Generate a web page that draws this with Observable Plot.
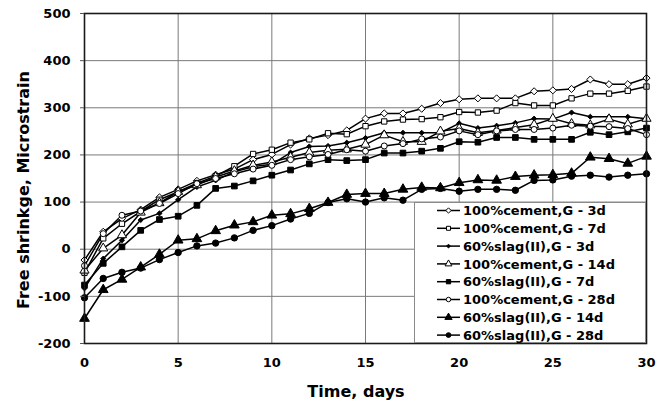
<!DOCTYPE html>
<html><head><meta charset="utf-8">
<script src="https://cdn.jsdelivr.net/npm/d3@7"></script>
<script src="https://cdn.jsdelivr.net/npm/@observablehq/plot@0.6"></script>
<style>
body{margin:0;background:#fff}
#chart svg{font-family:"DejaVu Sans",sans-serif;font-weight:bold}
</style>
</head><body><div id="chart"></div>
<script>
// ---- data ----
const days = [0,1,2,3,4,5,6,7,8,9,10,11,12,13,14,15,16,17,18,19,20,21,22,23,24,25,26,27,28,29,30];
const cement3d  = [-23,37,65,84,110,127,145,158,170,190,201,222,235,242,252,277,288,288,298,310,318,320,320,320,335,337,340,360,350,350,363];
const cement7d  = [-50,23,54,80,105,122,140,155,176,202,211,226,233,246,244,261,271,275,276,280,291,290,294,310,305,305,320,330,330,336,345];
const slag3d    = [-83,-20,19,62,76,105,132,146,164,175,180,205,218,219,226,236,247,247,247,247,267,257,262,268,277,276,290,281,281,281,277];
const cement14d = [-45,2,30,78,98,122,136,153,166,178,185,195,205,210,212,222,242,228,228,250,256,247,252,258,264,277,266,263,276,265,277];
const slag7d    = [-76,-30,5,40,63,70,93,129,134,145,157,168,181,190,188,190,204,204,208,214,228,227,237,237,233,233,233,248,243,249,257];
const cement28d = [-35,33,72,81,97,118,139,150,160,170,178,190,196,201,211,208,219,224,234,238,251,243,251,254,254,257,263,261,260,256,243];
const slag14d   = [-147,-86,-64,-38,-11,19,22,39,51,58,72,75,86,99,116,118,118,127,131,130,141,147,146,154,157,158,161,195,192,182,197];
const slag28d   = [-103,-62,-49,-40,-22,-7,7,13,24,40,50,64,76,99,107,100,109,104,127,129,123,127,127,125,146,147,155,157,153,157,160];

const seriesNames = ["100%cement,G - 3d","100%cement,G - 7d","60%slag(II),G - 3d","100%cement,G - 14d",
                     "60%slag(II),G - 7d","100%cement,G - 28d","60%slag(II),G - 14d","60%slag(II),G - 28d"];
const seriesValues = [cement3d, cement7d, slag3d, cement14d, slag7d, cement28d, slag14d, slag28d];
const xTicks = [0,5,10,15,20,25,30];
const yTicks = [-200,-100,0,100,200,300,400,500];

// ---- styles ----
const styles = [
  {symbol:"diamond2", fill:"white", r:3.2},
  {symbol:"square",   fill:"white", r:3.0},
  {symbol:"diamond2", fill:"black", r:2.3},
  {symbol:"triangle", fill:"white", r:3.4},
  {symbol:"square",   fill:"black", r:3.2},
  {symbol:"circle",   fill:"white", r:3.0},
  {symbol:"triangle", fill:"black", r:3.6},
  {symbol:"circle",   fill:"black", r:3.2}
];

const rows = seriesNames.map((name, i) => days.map((d, j) => ({day: d, value: seriesValues[i][j], series: name})));

const marks = [
  Plot.gridX(xTicks, {stroke:"#7a7a7a", strokeOpacity:1, strokeWidth:1}),
  Plot.gridY(yTicks, {stroke:"#7a7a7a", strokeOpacity:1, strokeWidth:1}),
];
rows.forEach((r) => {
  marks.push(Plot.line(r, {x:"day", y:"value", stroke:"black", strokeWidth:1.5}));
});
rows.forEach((r, i) => {
  const s = styles[i];
  marks.push(Plot.dot(r, {x:"day", y:"value", symbol:s.symbol, fill:s.fill, stroke:"black", strokeWidth:1, r:s.r}));
});
marks.push(
  Plot.frame({stroke:"#1a1a1a", strokeWidth:1.6}),
  Plot.axisX(xTicks, {tickSize:0, tickPadding:14, label:null, tickFormat: d => String(d)}),
  Plot.axisY(yTicks, {tickSize:4, tickPadding:10, label:null, stroke:"#555", tickFormat: d => String(d)})
);

const chart = Plot.plot({
  width: 667, height: 408,
  marginLeft: 84, marginRight: 21, marginTop: 13, marginBottom: 65,
  x: {domain:[0,30]},
  y: {domain:[-200,500]},
  style: {fontSize:"13px", fontFamily:"DejaVu Sans, sans-serif", fontWeight:"bold", color:"black", background:"white", overflow:"visible"},
  marks
});
document.getElementById("chart").append(chart);

// ---- axis titles & legend ----
const svg = d3.select(chart);
svg.append("text").attr("x", 356).attr("y", 397).attr("text-anchor","middle")
  .style("font-size","16px").style("font-weight","bold").attr("fill","black").text("Time, days");
svg.append("text").attr("transform","translate(29,190) rotate(-90)").attr("text-anchor","middle")
  .style("font-size","16px").style("font-weight","bold").attr("fill","black").text("Free shrinkge, Microstrain");

const lg = svg.append("g");
lg.append("rect").attr("x",414.5).attr("y",202.5).attr("width",231).attr("height",140)
  .style("fill","white").style("stroke","#8a8a8a").style("stroke-width","1px");
const symMap = {diamond2: d3.symbolDiamond2, square: d3.symbolSquare, triangle: d3.symbolTriangle, circle: d3.symbolCircle};
seriesNames.forEach((name, i) => {
  const y = 210.5 + i * 17.8;
  const s = styles[i];
  lg.append("line").attr("x1",437).attr("x2",460).attr("y1",y).attr("y2",y)
    .style("stroke","black").style("stroke-width","1.5px");
  lg.append("path").attr("transform",`translate(448.5,${y})`)
    .attr("d", d3.symbol(symMap[s.symbol], Math.PI * (s.r*0.75) ** 2)())
    .style("fill", s.fill).style("stroke","black").style("stroke-width","1px");
  lg.append("text").attr("x",463).attr("y",y).attr("dy","0.36em").attr("text-anchor","start")
    .style("font-size","13px").style("font-weight","bold").style("fill","black").text(name);
});
</script>
</body></html>
